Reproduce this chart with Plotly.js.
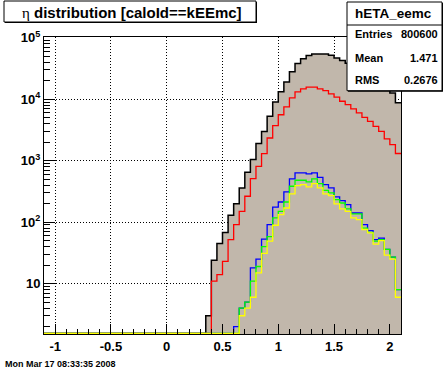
<!DOCTYPE html>
<html><head><meta charset="utf-8">
<script src="https://cdn.plot.ly/plotly-3.0.1.min.js"></script>
<style>html,body{margin:0;padding:0;background:#fff;} #chart{width:446px;height:372px;}</style>
</head><body><div id="chart"></div>
<script>
// bin low edges (width 0.05); bins below 0.30 are empty
const binLow = [0.30,0.35,0.40,0.45,0.50,0.55,0.60,0.65,0.70,0.75,0.80,0.85,0.90,0.95,1.00,1.05,1.10,1.15,1.20,1.25,1.30,1.35,1.40,1.45,1.50,1.55,1.60,1.65,1.70,1.75,1.80,1.85,1.90,1.95,2.00,2.05];
const histAll    = [0,3,24,45,68,129,200,360,650,1050,1900,3000,5300,9000,13200,19100,27900,38000,45700,51300,54700,54700,54700,51900,47000,42900,38500,34000,30000,26500,23000,20000,17500,15500,12600,8800];
const histRed    = [0,0,11,14,23,52,91,150,264,510,810,1300,2340,3720,5600,7500,10500,13200,14700,15700,15700,14700,13800,12200,10800,9270,8190,6970,6000,5080,4380,3630,3010,2260,1830,1310];
const histBlue   = [0,0,0,0,0,0,2,4,5,18,25,53,91,175,213,310,505,632,632,610,632,537,408,361,257,224,193,141,141,91,73,52,55,36,27,8];
const histGreen  = [0,0,0,0,0,0,0,4,5,11,19,40,58,117,150,213,384,481,481,452,505,424,330,299,233,205,164,136,136,80,68,49,52,36,27,8];
const histYellow = [0,0,0,0,0,0,0,3,4,6,15,31,49,89,133,170,288,394,408,374,424,361,288,270,198,164,150,117,110,76,67,44,50,29,25,6];
const xTickVals = [-1,-0.5,0,0.5,1,1.5,2];
const xTickText = ['-1','-0.5','0','0.5','1','1.5','2'];
const yTickVals = [10,100,1000,10000,100000];
const yTickText = ['10','10<sup>2</sup>','10<sup>3</sup>','10<sup>4</sup>','10<sup>5</sup>'];
const histName = 'hETA_eemc';
const statLabels = ['Entries','Mean','RMS'];
const statValues = ['800600','1.471','0.2676'];
const titleText = '<span style="font-family:Liberation Serif">η</span><b> distribution [caloId==kEEmc]</b>';
const dateText = 'Mon Mar 17 08:33:35 2008';

const xMin=-1.1, xMax=2.1, binWidth=0.05;
const yLogMin=0.18, yLogMax=5.013;
const floorVal = Math.pow(10, yLogMin + 0.008);
const fillColor = '#c1b7ab';

function stepTrace(vals, color, width){
  const x=[xMin], y=[floorVal];
  for (let i=0;i<binLow.length;i++){ x.push(binLow[i]); y.push(vals[i]>0?vals[i]:floorVal); }
  const last = vals[vals.length-1];
  x.push(xMax); y.push(last>0?last:floorVal);
  return {type:'scatter', mode:'lines', x:x, y:y, line:{shape:'hv', color:color, width:width}, hoverinfo:'skip', showlegend:false};
}

const traces = [
  {type:'bar', x:binLow.map(v=>v+binWidth/2), y:histAll, width:binWidth, marker:{color:fillColor, line:{width:0}}, hoverinfo:'skip', showlegend:false},
  stepTrace(histAll,'#000000',1.5),
  stepTrace(histRed,'#ff0000',1.3),
  stepTrace(histBlue,'#0000ff',1.3),
  stepTrace(histGreen,'#00ff00',1.3),
  stepTrace(histYellow,'#ffff00',1.3)
];

const minorX=[]; for(let k=-11;k<=21;k++) minorX.push(k/10);
const minorY=[]; for(let e=0;e<5;e++) for(let d=2;d<=9;d++) minorY.push(d*Math.pow(10,e));

const L=44, T=37, W=357, H=297;
const px = v => (v-L)/W;
const py = v => (T+H-v)/H;
const tickFont = {family:'Liberation Sans', size:13, color:'#000', weight:'bold'};

const layout = {
  width:446, height:372,
  margin:{l:L, r:446-L-W, t:T, b:372-T-H, pad:0},
  paper_bgcolor:'#fff', plot_bgcolor:'#fff',
  bargap:0, showlegend:false, hovermode:false,
  xaxis:{range:[xMin,xMax], tickmode:'array', tickvals:xTickVals, ticktext:xTickText,
    ticks:'inside', ticklen:10, tickwidth:1, tickcolor:'#000',
    showline:true, linecolor:'#000', linewidth:1, mirror:true, zeroline:false,
    showgrid:true, gridcolor:'#000', griddash:'1px,2px', gridwidth:1,
    minor:{tickmode:'array', tickvals:minorX, ticks:'inside', ticklen:5, tickcolor:'#000', showgrid:false},
    tickfont:tickFont, fixedrange:true},
  yaxis:{type:'log', range:[yLogMin,yLogMax], tickmode:'array', tickvals:yTickVals, ticktext:yTickText,
    ticks:'inside', ticklen:11, tickwidth:1, tickcolor:'#000',
    showline:true, linecolor:'#000', linewidth:1, mirror:true, zeroline:false,
    showgrid:true, gridcolor:'#000', griddash:'1px,2px', gridwidth:1,
    minor:{tickmode:'array', tickvals:minorY, ticks:'inside', ticklen:6, tickcolor:'#000', showgrid:false},
    tickfont:tickFont, fixedrange:true},
  shapes:[
    {type:'rect', xref:'paper', yref:'paper', x0:px(5), x1:px(257), y0:py(23), y1:py(2), fillcolor:'#000', line:{width:0}, layer:'above'},
    {type:'rect', xref:'paper', yref:'paper', x0:px(4), x1:px(256), y0:py(22), y1:py(1), fillcolor:'#fff', line:{color:'#000', width:1}, layer:'above'},
    {type:'rect', xref:'paper', yref:'paper', x0:px(348), x1:px(443), y0:py(91.7), y1:py(3), fillcolor:'#000', line:{width:0}, layer:'above'},
    {type:'rect', xref:'paper', yref:'paper', x0:px(347), x1:px(442), y0:py(90.7), y1:py(2), fillcolor:'#fff', line:{color:'#000', width:1}, layer:'above'},
    {type:'line', xref:'paper', yref:'paper', x0:px(347), x1:px(442), y0:py(25), y1:py(25), line:{color:'#000', width:1}, layer:'above'}
  ],
  annotations:[
    {text:titleText, xref:'paper', yref:'paper', x:px(132), y:py(12), xanchor:'center', yanchor:'middle', showarrow:false,
     font:{family:'Liberation Sans', size:15, color:'#000'}},
    {text:'<b>'+histName+'</b>', xref:'paper', yref:'paper', x:px(393), y:py(13.5), xanchor:'center', yanchor:'middle', showarrow:false,
     font:{family:'Liberation Sans', size:13.5, color:'#000'}},
    ...statLabels.map((s,i)=>({text:'<b>'+s+'</b>', xref:'paper', yref:'paper', x:px(352.5), y:py([34.5,58.5,80][i]), xanchor:'left', yanchor:'middle', showarrow:false,
     font:{family:'Liberation Sans', size:11, color:'#000'}})),
    ...statValues.map((s,i)=>({text:'<b>'+s+'</b>', xref:'paper', yref:'paper', x:px(439.5), y:py([34.5,58.5,80][i]), xanchor:'right', yanchor:'middle', showarrow:false,
     font:{family:'Liberation Sans', size:11, color:'#000'}})),
    {text:'<b>'+dateText+'</b>', xref:'paper', yref:'paper', x:px(3), y:py(364.3), xanchor:'left', yanchor:'middle', showarrow:false,
     font:{family:'Liberation Sans', size:9, color:'#000'}}
  ]
};

Plotly.newPlot('chart', traces, layout, {staticPlot:true, displayModeBar:false});
</script>
</body></html>
